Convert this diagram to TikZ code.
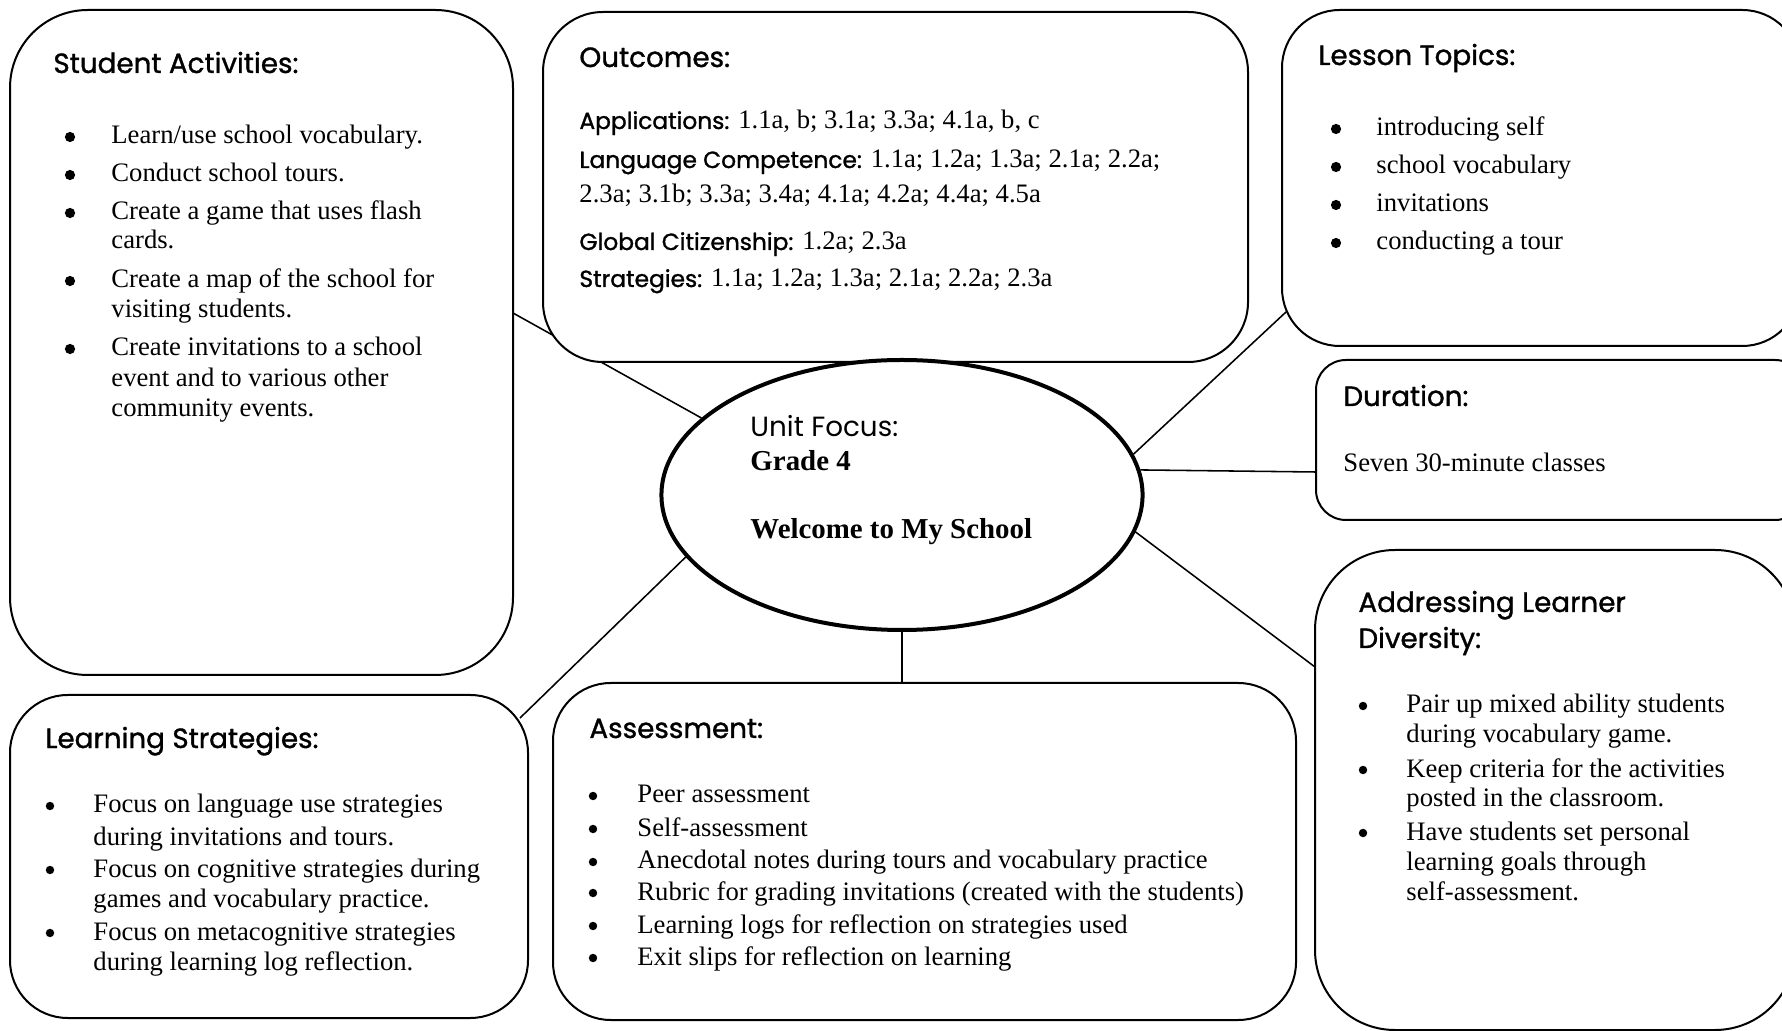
\documentclass[tikz,border=0pt]{standalone}
\usepackage{fontspec}
\setmainfont{Liberation Serif}
\newfontfamily\gothic{Poppins}
\newfontfamily\gothicb[FakeBold=1.2]{Poppins}
\usetikzlibrary{shapes.geometric,fit,calc}
\pgfdeclarelayer{bg}
\pgfsetlayers{bg,main}
\tikzset{
  box/.style={draw, line width=0.9pt, fill=white, inner sep=0pt, outer sep=0pt},
  hub/.style={draw, ellipse, line width=1.8pt, fill=white, inner sep=0pt,
    minimum width=216.5pt, minimum height=121.5pt},
  head/.style={anchor=base west, inner sep=0pt, font=\gothicb\fontsize{12.5}{14}\selectfont},
  body/.style={anchor=base west, inner sep=0pt, font=\fontsize{12}{14}\selectfont},
  dot/.style={circle, fill, inner sep=0pt, minimum size=4.6pt},
  link/.style={line width=0.7pt},
}
\newcommand{\lab}[1]{{\gothicb\fontsize{10.5}{12}\selectfont #1}}

\begin{document}
\begin{tikzpicture}[x=0.45pt,y=-0.45pt]
    \useasboundingbox (0,0) rectangle (1782,1031);
    \clip (0,0) rectangle (1782,1031);

    % the seven boxes
    \node[box, rounded corners=35pt, fit={(10,10) (513,675)}] (act) {};
    \node[box, rounded corners=27pt, fit={(543,12) (1248,362)}] (out) {};
    \node[box, rounded corners=26pt, fit={(1282,10) (1800,346)}] (top) {};
    \node[box, rounded corners=13.5pt, fit={(1316,360) (1805,520)}] (dur) {};
    \node[box, rounded corners=36pt, fit={(1315,550) (1795,1030)}] (div) {};
    \node[box, rounded corners=26pt, fit={(10,695) (528,1018)}] (strat) {};
    \node[box, rounded corners=26pt, fit={(553,683) (1296,1020)}] (ass) {};

    \node[hub] (focus) at (902,495) {};

    \begin{pgfonlayer}{bg}
        \draw[link] (focus.159) -- ($(act.east)+(0,-29.5)$);
        \draw[link] (focus.196) -- ($(strat.north east)+(-8,23)$);
        \draw[link] (focus.10) -- ($(top.south west)+(4,-34)$);
        \draw[link] (focus.6) -- ($(dur.west)+(0,32)$);
        \draw[link] (focus.351) -- ($(div.north west)+(0,117)$);
        \draw[link] (focus.south) -- (focus.south |- ass.north);
    \end{pgfonlayer}

    % centre
    \node[head, font=\gothic\fontsize{12.5}{14}\selectfont] (unit) at (750,437) {Unit Focus:};
    \node[body, font=\bfseries\fontsize{13}{15}\selectfont] (grade) at (750,471) {Grade 4};
    \node[body, font=\bfseries\fontsize{13}{15}\selectfont] (title) at (750,539) {Welcome to My School};

    % student activities
    \node[head] (acth) at (53,73) {Student Activities:};
    \foreach \y [count=\i] in {144,182,220,288,356}
        \node[dot] (actd\i) at (70,\y-7) {};
    \foreach \y/\t [count=\i] in {144/{Learn/use school vocabulary.},
        182/{Conduct school tours.}, 220/{Create a game that uses flash},
        249/{cards.}, 288/{Create a map of the school for},
        318/{visiting students.}, 356/{Create invitations to a school},
        387/{event and to various other}, 417/{community events.}}
        \node[body] (actt\i) at (111,\y) {\t};

    % outcomes
    \node[head] (outh) at (579,67) {Outcomes:};
    \node[body] (out1) at (579,129) {\lab{Applications:} 1.1a, b; 3.1a; 3.3a; 4.1a, b, c};
    \node[body] (out2) at (579,168) {\lab{Language Competence:} 1.1a; 1.2a; 1.3a; 2.1a; 2.2a;};
    \node[body] (out3) at (579,203) {2.3a; 3.1b; 3.3a; 3.4a; 4.1a; 4.2a; 4.4a; 4.5a};
    \node[body] (out4) at (579,250) {\lab{Global Citizenship:} 1.2a; 2.3a};
    \node[body] (out5) at (579,287) {\lab{Strategies:} 1.1a; 1.2a; 1.3a; 2.1a; 2.2a; 2.3a};

    % lesson topics
    \node[head] (toph) at (1318,65) {Lesson Topics:};
    \foreach \y/\t [count=\i] in {136/{introducing self}, 174/{school vocabulary},
        212/{invitations}, 250/{conducting a tour}}
    {
        \node[dot] (topd\i) at (1336,\y-7) {};
        \node[body] (topt\i) at (1376,\y) {\t};
    }

    % duration
    \node[head] (durh) at (1343,406) {Duration:};
    \node[body] (durt) at (1343,472) {Seven 30-minute classes};

    % learner diversity
    \node[head] (divh1) at (1358,612) {Addressing Learner};
    \node[head] (divh2) at (1358,648) {Diversity:};
    \foreach \y [count=\i] in {713,777,840}
        \node[dot, minimum size=3.8pt] (divd\i) at (1363,\y-7) {};
    \foreach \y/\t [count=\i] in {713/{Pair up mixed ability students},
        743/{during vocabulary game.}, 777/{Keep criteria for the activities},
        807/{posted in the classroom.}, 840/{Have students set personal},
        870/{learning goals through}, 900/{self-assessment.}}
        \node[body] (divt\i) at (1406,\y) {\t};

    % learning strategies
    \node[head] (strath) at (45,748) {Learning Strategies:};
    \foreach \y [count=\i] in {813,877,940}
        \node[dot, minimum size=3.8pt] (stratd\i) at (50,\y-7) {};
    \foreach \y/\t [count=\i] in {813/{Focus on language use strategies},
        845/{during invitations and tours.}, 877/{Focus on cognitive strategies during},
        907/{games and vocabulary practice.}, 940/{Focus on metacognitive strategies},
        970/{during learning log reflection.}}
        \node[body] (stratt\i) at (93,\y) {\t};

    % assessment
    \node[head] (assh) at (589,738) {Assessment:};
    \foreach \y/\t [count=\i] in {803/{Peer assessment}, 836/{Self-assessment},
        869/{Anecdotal notes during tours and vocabulary practice},
        900/{Rubric for grading invitations (created with the students)},
        933/{Learning logs for reflection on strategies used},
        965/{Exit slips for reflection on learning}}
    {
        \node[dot, minimum size=3.8pt] (assd\i) at (593,\y-7) {};
        \node[body] (asst\i) at (637,\y) {\t};
    }
\end{tikzpicture}
\end{document}
